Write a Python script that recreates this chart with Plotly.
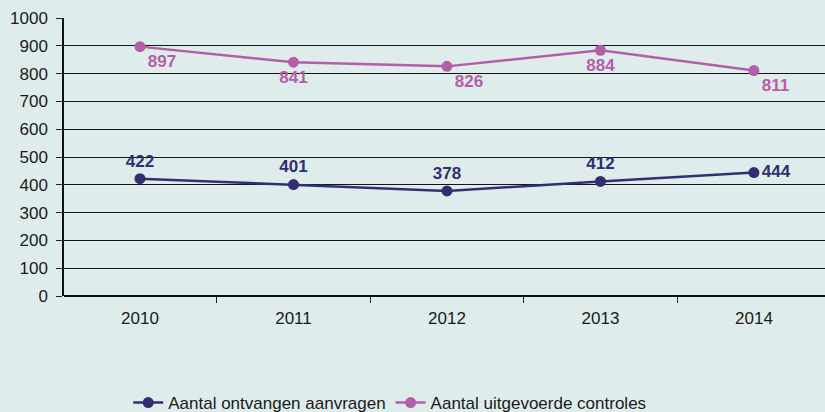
import plotly.graph_objects as go

# data
jaren = ["2010", "2011", "2012", "2013", "2014"]
aanvragen = [422, 401, 378, 412, 444]
controles = [897, 841, 826, 884, 811]

navy = "#332d72"
roze = "#b55ea8"
bg = "#dfecec"

fig = go.Figure()

fig.add_trace(go.Scatter(
    x=jaren, y=aanvragen, name="Aantal ontvangen aanvragen",
    mode="lines+markers+text",
    line=dict(color=navy, width=2.5),
    marker=dict(color=navy, size=11),
    text=[str(v) for v in aanvragen],
    textposition=["top center", "top center", "top center", "top center", "middle right"],
    textfont=dict(family="Liberation Sans, Arial", size=17, color=navy, weight="bold"),
))

fig.add_trace(go.Scatter(
    x=jaren, y=controles, name="Aantal uitgevoerde controles",
    mode="lines+markers+text",
    line=dict(color=roze, width=2.5),
    marker=dict(color=roze, size=11),
    text=[str(v) for v in controles],
    textposition=["bottom right", "bottom center", "bottom right", "bottom center", "bottom right"],
    textfont=dict(family="Liberation Sans, Arial", size=17, color=roze, weight="bold"),
))

fig.update_layout(
    width=825, height=412,
    paper_bgcolor=bg, plot_bgcolor=bg,
    margin=dict(l=64, r=0, t=18, b=116, autoexpand=False),
    font=dict(family="Liberation Sans, Arial", size=17, color="#1a1a1a"),
    showlegend=True,
    legend=dict(orientation="h", x=0.428, xanchor="center", y=-0.385, yanchor="middle",
                font=dict(size=17), tracegroupgap=0),
)

fig.update_xaxes(
    type="category", range=[-0.495, 4.463], tickson="boundaries",
    ticks="outside", ticklen=6, tickcolor="#222",
    showgrid=False, showline=False, zeroline=False,
    tickfont=dict(size=17), ticklabelstandoff=10,
)

fig.update_yaxes(
    range=[0, 1000], dtick=100, tick0=0,
    ticks="outside", ticklen=6, tickcolor="#222",
    showgrid=True, gridcolor="#151515", gridwidth=1,
    showline=True, linecolor="#111", linewidth=1.5,
    zeroline=True, zerolinecolor="#111", zerolinewidth=1.5,
    tickfont=dict(size=17), ticklabelstandoff=5,
)

# body-marge weghalen zodat de figuur het venster precies vult
fig.write_html("out.html", config={"displayModeBar": False},
               post_script="document.body.style.margin='0';")
